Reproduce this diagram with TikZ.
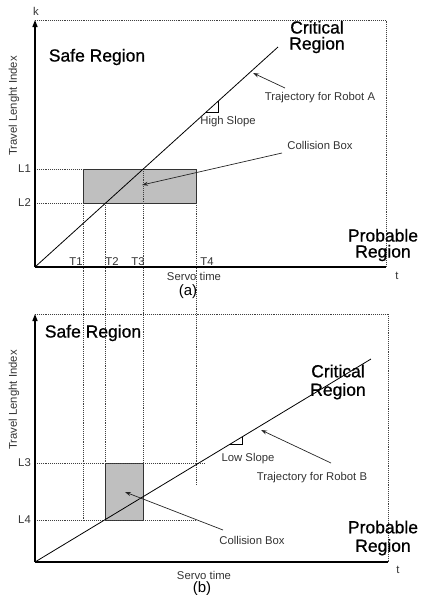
\documentclass[tikz,border=0pt]{standalone}
\usepackage{fontspec}
\setmainfont{Liberation Sans}
\newfontfamily\heavyfont[FakeBold=0.8]{Liberation Sans}
\usetikzlibrary{arrows.meta}
\begin{document}
\begin{tikzpicture}[x=1pt,y=-1pt,
 axis/.style={line width=1.3pt, black},
 yaxis/.style={axis, -{Triangle[length=7pt,width=5pt]}},
 traj/.style={line width=0.8pt, black},
 guide/.style={densely dotted, line width=0.9pt, black!75},
 cbox/.style={fill=black!25, draw=black!80, line width=0.9pt},
 slope/.style={line width=0.6pt, black},
 ptr/.style={line width=0.7pt, black!85, -{Stealth[length=6pt,width=4pt]}},
 small/.style={font=\fontsize{11.3}{12}\selectfont, text=black!80, inner sep=0pt},
 big/.style={font=\heavyfont\fontsize{17.5}{16}\selectfont, align=center, inner sep=0pt},
 bigb/.style={font=\heavyfont\fontsize{17.5}{18.5}\selectfont, align=center, inner sep=0pt},
 captxt/.style={font=\fontsize{15}{16}\selectfont, inner sep=0pt},
]
\useasboundingbox (0,0) rectangle (421,595);

% ---------- panel (a) coordinates ----------
\coordinate (Oa) at (35,267);
\coordinate (Ka) at (35,20);
\coordinate (Xa) at (386,267);
\coordinate (Ca) at (386,20);
\coordinate (Ea) at (278,47);
\coordinate (L1a) at (35,169);
\coordinate (L2a) at (35,203);
\coordinate (B1) at (83,169);
\coordinate (B2) at (196,203);
\coordinate (T1top) at (83,203);
\coordinate (T2top) at (105,203);
\coordinate (T3top) at (143,169);
\coordinate (T4top) at (196,203);

% ---------- panel (b) coordinates ----------
\coordinate (Ob) at (35,562);
\coordinate (Kb) at (35,314);
\coordinate (Xb) at (388,562);
\coordinate (Cb) at (388,314);
\coordinate (Eb) at (371,359);
\coordinate (L3b) at (35,463);
\coordinate (L4b) at (35,520);
\coordinate (L3end) at (205,463);
\coordinate (L4end) at (196,520);
\coordinate (C1) at (105,463);
\coordinate (C2) at (143,520);
\coordinate (T1bot) at (83,520);
\coordinate (T2bot) at (105,463);
\coordinate (T3bot) at (143,463);
\coordinate (T4bot) at (196,485);

% boxes
\draw[cbox] (B1) rectangle (B2);
\draw[cbox] (C1) rectangle (C2);

% frames
\draw[guide] (Ka) -- (Ca) -- (Xa);
\draw[guide] (Kb) -- (Cb) -- (Xb);

% guides
\draw[guide] (L1a) -- (B1);
\draw[guide] (L2a) -- (83,203);
\draw[guide] (T1top) -- (T1bot);
\draw[guide] (T2top) -- (T2bot);
\draw[guide] (T3top) -- (T3bot);
\draw[guide] (T4top) -- (T4bot);
\draw[guide] (L3b) -- (L3end);
\draw[guide] (L4b) -- (L4end);

% axes
\draw[axis] (Oa) -- (Xa);
\draw[yaxis] (Oa) -- (Ka);
\draw[axis] (Ob) -- (Xb);
\draw[yaxis] (Ob) -- (Kb);

% trajectories
\draw[traj] (Oa) -- (Ea);
\draw[traj] (Ob) -- (Eb);

% slope triangles
\coordinate (Sa1) at (206,112);
\coordinate (Sa2) at (218,112);
\coordinate (Sa3) at (218,101);
\draw[slope] (Sa1) -- (Sa2) -- (Sa3);
\coordinate (Sb1) at (230,444);
\coordinate (Sb2) at (242,444);
\coordinate (Sb3) at (242,437);
\draw[slope] (Sb1) -- (Sb2) -- (Sb3);

% ---------- texts (a) ----------
\node[small] (ka) at (36,11) {k};
\node[small] (ta) at (397,276) {t};
\node[small, rotate=90] (ya) at (14,106) {Travel Lenght Index};
\node[small, anchor=east] (l1) at (31,169) {L1};
\node[small, anchor=east] (l2) at (31,203) {L2};
\node[small] (t1) at (76,262) {T1};
\node[small] (t2) at (112,262) {T2};
\node[small] (t3) at (138,262) {T3};
\node[small] (t4) at (207,262) {T4};
\node[small] (sva) at (194,276) {Servo time};
\node[captxt] (capa) at (188,292) {(a)};
\node[big] (safea) at (97,57) {Safe Region};
\node[big] (crita) at (317,37) {Critical\\Region};
\node[big] (proba) at (383,245) {Probable\\Region};
\node[small] (traja) at (320,98) {Trajectory for Robot A};
\node[small] (higha) at (228,122) {High Slope};
\node[small] (colla) at (320,145) {Collision Box};

\coordinate (pa1) at (285,88);
\coordinate (pa2) at (253,73);
\draw[ptr] (pa1) -- (pa2);
\coordinate (pc1) at (282,153);
\coordinate (pc2) at (142,185);
\draw[ptr] (pc1) -- (pc2);

% ---------- texts (b) ----------
\node[small] (tb) at (398,570) {t};
\node[small, rotate=90] (yb) at (14,400) {Travel Lenght Index};
\node[small, anchor=east] (l3) at (31,463) {L3};
\node[small, anchor=east] (l4) at (31,520) {L4};
\node[small] (svb) at (204,575) {Servo time};
\node[captxt] (capb) at (202,589) {(b)};
\node[big] (safeb) at (93,333) {Safe Region};
\node[bigb] (critb) at (338,382) {Critical\\Region};
\node[bigb] (probb) at (383,538) {Probable\\Region};
\node[small] (trajb) at (312,478) {Trajectory for Robot B};
\node[small] (lowb) at (248,459) {Low Slope};
\node[small] (collb) at (252,540) {Collision Box};

\coordinate (pb1) at (331,463);
\coordinate (pb2) at (261,430);
\draw[ptr] (pb1) -- (pb2);
\coordinate (pd1) at (223,530);
\coordinate (pd2) at (125,492);
\draw[ptr] (pd1) -- (pd2);
\end{tikzpicture}
\end{document}
